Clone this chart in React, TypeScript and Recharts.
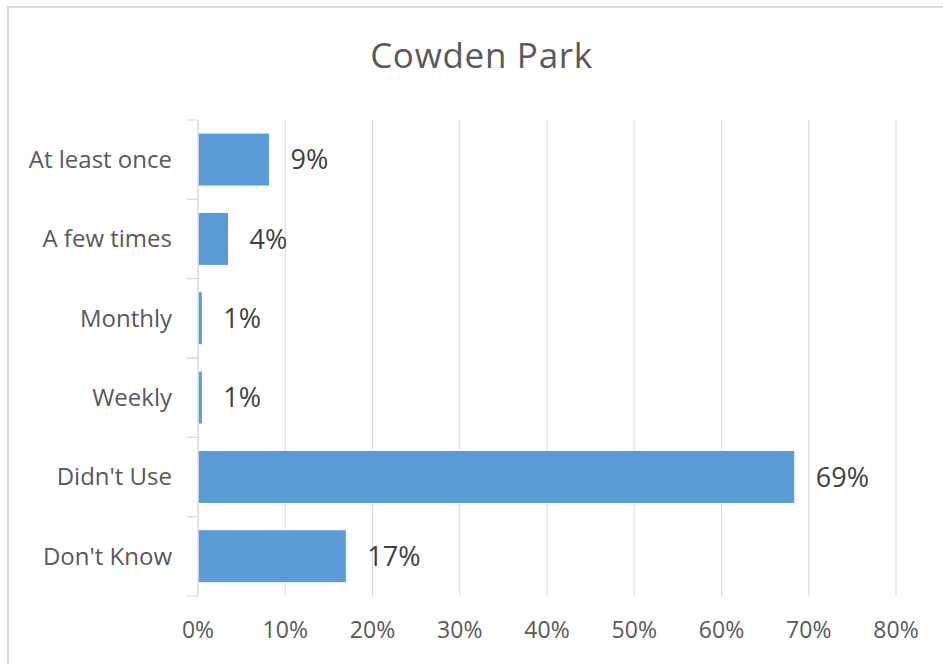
import React from 'react';
import { BarChart, Bar, XAxis, YAxis, CartesianGrid, LabelList } from 'recharts';

const CATEGORIES = ['At least once', 'A few times', 'Monthly', 'Weekly', "Didn't Use", "Don't Know"];
const VALUES = [8.2, 3.5, 0.5, 0.5, 68.4, 17.0];
const LABELS = ['9%', '4%', '1%', '1%', '69%', '17%'];
const X_TICKS = [0, 10, 20, 30, 40, 50, 60, 70, 80];

const data = CATEGORIES.map((name, i) => ({ name, value: VALUES[i], label: LABELS[i] }));

const FONT = '"Open Sans", "Noto Sans", sans-serif';
const PLOT_TOP = 120;
const PLOT_BOTTOM = 596;
const BAND = (PLOT_BOTTOM - PLOT_TOP) / CATEGORIES.length;

// Excel-style y tick: label plus short marks on the band boundaries
function CategoryTick(props: any) {
  const { x, y, payload } = props;
  const axisX = 198;
  return (
    <g>
      <line x1={axisX - 11} x2={axisX} y1={y - BAND / 2} y2={y - BAND / 2} stroke="#d9d9d9" />
      <line x1={axisX - 11} x2={axisX} y1={y + BAND / 2} y2={y + BAND / 2} stroke="#d9d9d9" />
      <text x={x} y={y} dy="0.35em" textAnchor="end" fill="#595959" fontSize={24} fontFamily={FONT}>
        {payload.value}
      </text>
    </g>
  );
}

export default function App() {
  return (
    <div style={{ position: 'absolute', left: 0, top: 0, width: 943, height: 664, overflow: 'hidden', background: '#fff' }}>
      <div
        style={{
          position: 'absolute', left: 7, top: 6, width: 960, height: 680,
          border: '2px solid #d9d9d9', boxSizing: 'border-box',
        }}
      />
      <div
        style={{
          position: 'absolute', left: 0, width: 963, top: 31, textAlign: 'center',
          fontFamily: FONT, fontSize: 35, letterSpacing: 0.7, color: '#595959',
        }}
      >
        Cowden Park
      </div>
      <div style={{ position: 'absolute', left: 0, top: 0 }}>
        <BarChart
          width={943}
          height={664}
          data={data}
          layout="vertical"
          margin={{ top: PLOT_TOP, right: 47, bottom: 28, left: 0 }}
          barCategoryGap="16.5%"
        >
          <CartesianGrid horizontal={false} stroke="#d9d9d9" />
          <XAxis
            type="number"
            domain={[0, 80]}
            ticks={X_TICKS}
            tickFormatter={(v: number) => `${v}%`}
            axisLine={false}
            tickLine={false}
            tickSize={0}
            tickMargin={26}
            height={40}
            tick={{ fill: '#595959', fontSize: 23, fontFamily: FONT }}
          />
          <YAxis
            type="category"
            dataKey="name"
            width={198}
            axisLine={{ stroke: '#d9d9d9' }}
            tickLine={false}
            tickSize={0}
            tickMargin={26}
            tick={<CategoryTick />}
          />
          <Bar dataKey="value" fill="#5b9bd5" stroke="#ffffff" strokeWidth={1} isAnimationActive={false}>
            <LabelList dataKey="label" position="right" offset={21} fill="#404040" fontSize={27} fontFamily={FONT} />
          </Bar>
        </BarChart>
      </div>
    </div>
  );
}
